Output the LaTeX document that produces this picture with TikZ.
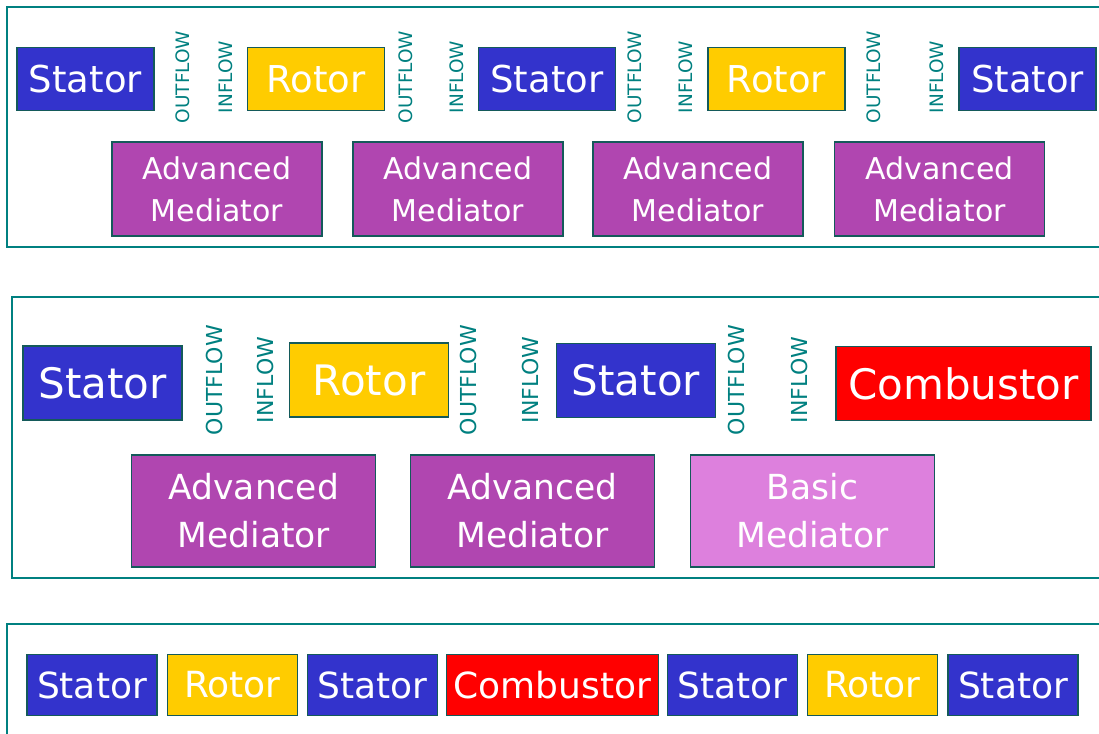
\documentclass[tikz,border=0pt]{standalone}
\usepackage{fontspec}
\setmainfont{DejaVu Sans}
\usetikzlibrary{positioning}

\definecolor{statorblue}{RGB}{51,51,204}
\definecolor{rotoryellow}{RGB}{255,204,0}
\definecolor{combred}{RGB}{255,0,0}
\definecolor{advpurple}{RGB}{176,70,176}
\definecolor{basicpink}{RGB}{221,128,221}
\definecolor{boxedge}{RGB}{20,90,90}
\definecolor{flowteal}{RGB}{0,128,128}

\begin{document}
\begin{tikzpicture}[
            x = 1pt, y = -1pt, % pixel units, y runs downwards
            inner sep = 0pt,
            line join = miter
        ]

        \tikzstyle{block}=[
            draw = boxedge,
            line width = 1.2pt,
            text = white,
            align = center
        ]
        \tikzstyle{stator}=[block, fill = statorblue]
        \tikzstyle{rotor}=[block, fill = rotoryellow]
        \tikzstyle{comb}=[block, fill = combred]
        \tikzstyle{advmed}=[block, fill = advpurple]
        \tikzstyle{basicmed}=[block, fill = basicpink]
        \tikzstyle{panel}=[draw = flowteal, line width = 1.5pt]

        % sizes for each row
        \tikzstyle{rowa}=[minimum width = 137pt, minimum height = 63pt, font = \fontsize{37}{44}\selectfont]
        \tikzstyle{meda}=[minimum width = 210pt, minimum height = 94pt, font = \fontsize{30}{42}\selectfont]
        \tikzstyle{rowb}=[minimum width = 159pt, minimum height = 74pt, font = \fontsize{42}{50}\selectfont]
        \tikzstyle{medb}=[minimum width = 244pt, minimum height = 112pt, font = \fontsize{34.5}{48}\selectfont]
        \tikzstyle{rowc}=[minimum width = 130pt, minimum height = 61pt, font = \fontsize{36}{42}\selectfont]
        \tikzstyle{flowa}=[rotate = 90, text = flowteal, font = \fontsize{18.5}{20}\selectfont]
        \tikzstyle{flowb}=[rotate = 90, text = flowteal, font = \fontsize{22}{24}\selectfont]

        \useasboundingbox (0,0) rectangle (1099,733);
        \clip (0,0) rectangle (1099,733);
        \fill[white] (0,0) rectangle (1099,733);

        % first chain: advanced mediators only
        \draw[panel] (7,7) rectangle (1120,247);
        \node[stator, rowa] (s1) at (85.5,79) {Stator};
        \node[rotor, rowa] (r1) at (316,79) {Rotor};
        \node[stator, rowa] (s2) at (547,79) {Stator};
        \node[rotor, rowa] (r2) at (776.5,79) {Rotor};
        \node[stator, rowa] (s3) at (1027.5,79) {Stator};

        \node[flowa] (o1) at (183,77) {OUTFLOW};
        \node[flowa] (i1) at (226,77) {INFLOW};
        \node[flowa] (o2) at (406,77) {OUTFLOW};
        \node[flowa] (i2) at (457,77) {INFLOW};
        \node[flowa] (o3) at (635,77) {OUTFLOW};
        \node[flowa] (i3) at (686,77) {INFLOW};
        \node[flowa] (o4) at (874,77) {OUTFLOW};
        \node[flowa] (i4) at (937,77) {INFLOW};

        \node[advmed, meda] (m1) at (217,189) {Advanced\\Mediator};
        \node[advmed, meda] (m2) at (458,189) {Advanced\\Mediator};
        \node[advmed, meda] (m3) at (698,189) {Advanced\\Mediator};
        \node[advmed, meda] (m4) at (939.5,189) {Advanced\\Mediator};

        % second chain: ends in the combustor
        \draw[panel] (12,297) rectangle (1120,578);
        \node[stator, rowb] (t1) at (102.5,383) {Stator};
        \node[rotor, rowb] (q1) at (369,380) {Rotor};
        \node[stator, rowb] (t2) at (636,380.5) {Stator};
        \node[comb, rowb, minimum width = 255pt] (c1) at (963.5,383.5) {Combustor};

        \node[flowb] (p1) at (214,380) {OUTFLOW};
        \node[flowb] (j1) at (265,380) {INFLOW};
        \node[flowb] (p2) at (468,380) {OUTFLOW};
        \node[flowb] (j2) at (530,380) {INFLOW};
        \node[flowb] (p3) at (736,380) {OUTFLOW};
        \node[flowb] (j3) at (799,380) {INFLOW};

        \node[advmed, medb] (n1) at (253.8,511) {Advanced\\Mediator};
        \node[advmed, medb] (n2) at (532.5,511) {Advanced\\Mediator};
        \node[basicmed, medb] (b1) at (812.5,511) {Basic\\Mediator};

        % third chain: the whole row of components
        \draw[panel] (7,624) rectangle (1120,760);
        \node[stator, rowc] (u1) at (92,685) {Stator};
        \node[rotor, rowc] (v1) at (232.5,685) {Rotor};
        \node[stator, rowc] (u2) at (372.5,685) {Stator};
        \node[comb, rowc, minimum width = 212pt] (c2) at (552.5,685) {Combustor};
        \node[stator, rowc] (u3) at (732.5,685) {Stator};
        \node[rotor, rowc] (v2) at (872.5,685) {Rotor};
        \node[stator, rowc] (u4) at (1013,685) {Stator};

  \end{tikzpicture}
\end{document}
